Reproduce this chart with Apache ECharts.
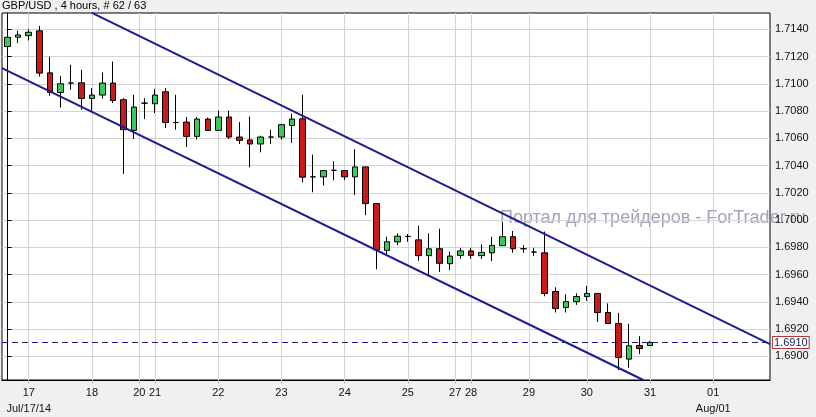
<!DOCTYPE html>
<html><head><meta charset="utf-8">
<script src="https://cdn.jsdelivr.net/npm/echarts@6/dist/echarts.min.js"></script>
<style>html,body{margin:0;padding:0;background:#f0f0f0;}#c{width:816px;height:417px;}</style>
</head><body><div id="c"></div>
<script>
const title = 'GBP/USD , 4 hours, # 62 / 63';
const watermark = 'Портал для трейдеров - ForTrader.ru';
const opens = [1.71273,1.71341,1.71353,1.71388,1.71080,1.70936,1.71005,1.71007,1.70892,1.70917,
  1.71005,1.70883,1.70658,1.70858,1.70853,1.70941,1.70716,1.70719,1.70614,1.70741,
  1.70658,1.70756,1.70609,1.70588,1.70558,1.70609,1.70609,1.70694,1.70743,1.70317,
  1.70317,1.70365,1.70363,1.70317,1.70390,1.70121,1.69778,1.69840,1.69880,1.69855,
  1.69739,1.69790,1.69680,1.69741,1.69774,1.69739,1.69760,1.69812,1.69878,1.69790,
  1.69765,1.69760,1.69476,1.69359,1.69402,1.69439,1.69462,1.69322,1.69241,1.68980,
  1.69080,1.69080];
const closes = [1.71341,1.71358,1.71378,1.71078,1.70936,1.71000,1.71005,1.70892,1.70917,1.71005,
  1.70877,1.70663,1.70829,1.70858,1.70917,1.70716,1.70716,1.70614,1.70741,1.70658,
  1.70756,1.70609,1.70585,1.70558,1.70609,1.70609,1.70700,1.70741,1.70315,1.70317,
  1.70363,1.70365,1.70317,1.70390,1.70121,1.69781,1.69841,1.69882,1.69880,1.69739,
  1.69789,1.69683,1.69736,1.69774,1.69741,1.69763,1.69814,1.69878,1.69790,1.69790,
  1.69765,1.69462,1.69351,1.69402,1.69439,1.69462,1.69322,1.69241,1.68992,1.69078,
  1.69058,1.69102];
const lows = [1.71212,1.71298,1.71317,1.71053,1.70912,1.70826,1.70956,1.70809,1.70797,1.70892,
  1.70858,1.70339,1.70595,1.70741,1.70785,1.70675,1.70663,1.70536,1.70590,1.70656,
  1.70655,1.70595,1.70558,1.70387,1.70497,1.70558,1.70590,1.70566,1.70277,1.70204,
  1.70253,1.70292,1.70293,1.70183,1.70036,1.69639,1.69739,1.69816,1.69841,1.69701,
  1.69588,1.69619,1.69634,1.69716,1.69716,1.69714,1.69699,1.69810,1.69760,1.69760,
  1.69737,1.69441,1.69322,1.69322,1.69378,1.69407,1.69253,1.69240,1.68899,1.68917,
  1.69018,1.69078];
const highs = [1.71358,1.71388,1.71400,1.71424,1.71199,1.71058,1.71139,1.71102,1.70968,1.71082,
  1.71163,1.70895,1.70919,1.70895,1.70963,1.70968,1.70919,1.70756,1.70756,1.70751,
  1.70802,1.70802,1.70719,1.70760,1.70619,1.70663,1.70702,1.70781,1.70919,1.70480,
  1.70365,1.70431,1.70365,1.70520,1.70392,1.70123,1.69878,1.69902,1.69898,1.69960,
  1.69902,1.69936,1.69770,1.69796,1.69796,1.69822,1.69878,1.69982,1.69920,1.69816,
  1.69796,1.69916,1.69507,1.69456,1.69463,1.69518,1.69463,1.69389,1.69319,1.69240,
  1.69148,1.69114];
const dayTickPos = [2, 8, 12.5, 14, 20, 26, 32, 38, 42.5, 44, 49.5, 55, 61, 67];
const dayTickLabels = ['17','18','20','21','22','23','24','25','27','28','29','30','31','01'];
const dayTickSubLabels = ['Jul/17/14','','','','','','','','','','','','','Aug/01'];
const priceTicks = [1.6900,1.6920,1.6940,1.6960,1.6980,1.7000,1.7020,1.7040,1.7060,1.7080,1.7100,1.7120,1.7140];
const upperChannel = [[8, 1.7152], [72.39, 1.6909]];
const lowerChannel = [[-0.54, 1.71115], [60.36, 1.68827]];

const FONT = '"Liberation Sans", Arial, sans-serif';
const candles = opens.map((o, i) => [i, o, closes[i], lows[i], highs[i]]);
const lastClose = closes[closes.length - 1];

const chart = echarts.init(document.getElementById('c'), null, {renderer: 'canvas'});
chart.setOption({
  animation: false,
  backgroundColor: '#f0f0f0',
  grid: {left: 2, right: 46, top: 13, bottom: 36, show: true, backgroundColor: '#ffffff', borderColor: '#000', borderWidth: 1},
  graphic: [
    {type: 'text', left: 2, top: 0, z: 10, style: {text: title, font: '11px ' + FONT, fill: '#000'}},
    {type: 'text', left: 500, top: 209, z: 0, silent: true, style: {text: watermark, font: '18px ' + FONT, fill: 'rgba(140,140,165,0.8)'}}
  ],
  xAxis: {
    type: 'value', min: -0.54, max: 72.39,
    axisLine: {show: true, lineStyle: {color: '#000'}},
    axisTick: {show: true, length: 4, lineStyle: {color: '#b8b8b8'}, customValues: dayTickPos},
    axisLabel: {
      customValues: dayTickPos, margin: 5, fontSize: 11, fontFamily: FONT, color: '#111', lineHeight: 16,
      formatter: function (v) {
        const i = dayTickPos.indexOf(v);
        if (i < 0) return '';
        return dayTickSubLabels[i] ? dayTickLabels[i] + '\n' + dayTickSubLabels[i] : dayTickLabels[i];
      }
    },
    splitLine: {show: true, lineStyle: {color: '#d4d4d4', width: 1}}
  },
  yAxis: {
    type: 'value', position: 'right', min: 1.68827, max: 1.71519,
    axisLine: {show: true, lineStyle: {color: '#000'}},
    axisTick: {show: true, length: 4, lineStyle: {color: '#000'}, customValues: priceTicks},
    axisLabel: {customValues: priceTicks, margin: 5, fontSize: 11, fontFamily: FONT, color: '#111',
      padding: [3, 0, 0, 0], formatter: v => v.toFixed(4)},
    splitLine: {show: true, lineStyle: {color: '#d4d4d4', width: 1}}
  },
  series: [
    {
      type: 'candlestick', data: candles, barWidth: 6, z: 3,
      itemStyle: {color: '#35cc5a', color0: '#cc1a1a', borderColor: '#000', borderColor0: '#000', borderColorDoji: '#000', borderWidth: 1}
    },
    {type: 'line', data: upperChannel, symbol: 'none', z: 4, clip: true, lineStyle: {color: '#1c1c96', width: 2},
      markLine: {
        silent: true, symbol: ['none', 'none'], animation: false, precision: 6,
        lineStyle: {color: '#1a1a8c', type: [6, 4], width: 1},
        label: {show: true, position: 'end', distance: 3, formatter: lastClose.toFixed(4),
          backgroundColor: '#fff', borderColor: '#b03a3a', borderWidth: 1, padding: [0, 1, 0, 1],
          color: '#1a1a60', fontSize: 11, fontFamily: FONT},
        data: [{yAxis: lastClose}]
      }
    },
    {type: 'line', data: lowerChannel, symbol: 'none', z: 4, clip: true, lineStyle: {color: '#1c1c96', width: 2}}
  ]
});
</script></body></html>
